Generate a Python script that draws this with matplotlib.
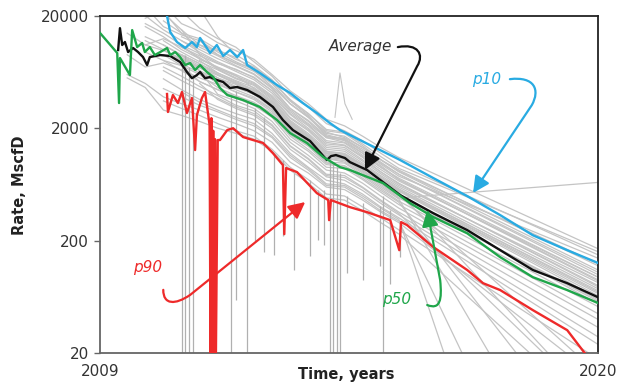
import numpy as np
import matplotlib
matplotlib.use("Agg")
from matplotlib import pyplot as plt
from matplotlib.path import Path
from matplotlib.patches import FancyArrowPatch

nan = np.nan

# ---- coloured summary curves (year, rate MscfD) ----
p10_years = [2010.48, 2010.55, 2010.70, 2010.88, 2011.03, 2011.14, 2011.21, 2011.36, 2011.43, 2011.58,
             2011.72, 2011.87, 2012.03, 2012.16, 2012.25, 2012.53, 2012.91, 2013.20, 2013.48, 2013.79,
             2014.08, 2014.30, 2014.74, 2015.41, 2015.63, 2016.36, 2017.11, 2017.84, 2018.56, 2019.32, 2020.0]
p10_rates = [19900, 14340, 11670, 10330, 11670, 10530, 12690, 10330, 9320, 10980,
             8770, 9910, 8580, 9910, 7290, 6190, 4840, 4110, 3350, 2730,
             2220, 1927, 1571, 1155, 1043, 722, 499, 338, 224, 165, 127]

avg_years = [2009.40, 2009.44, 2009.49, 2009.55, 2009.62, 2009.73, 2009.84, 2009.95, 2010.04, 2010.10,
             2010.33, 2010.55, 2010.77, 2010.92, 2011.03, 2011.14, 2011.21, 2011.32, 2011.43, 2011.58,
             2011.72, 2011.87, 2012.03, 2012.25, 2012.53, 2012.82, 2013.04, 2013.26, 2013.64, 2014.01,
             2014.10, 2014.21, 2014.41, 2014.52, 2014.90, 2015.63, 2016.36, 2017.11, 2017.84, 2018.56,
             2019.32, 2020.0]
avg_rates = [9910, 15500, 10980, 11680, 9510, 10330, 9510, 8580, 7290, 8580,
             8945, 8770, 7750, 6320, 5570, 5940, 6320, 5570, 5700, 5360,
             5150, 4560, 4650, 4370, 3800, 3090, 2365, 1927, 1540, 1043,
             1130, 1155, 1087, 1000, 850, 509, 352, 249, 165, 110,
             84, 63]

p50_years = [2009.00, 2009.38, 2009.42, 2009.44, 2009.66, 2009.71, 2009.82, 2009.93, 2009.99, 2010.10,
             2010.21, 2010.33, 2010.48, 2010.55, 2010.66, 2010.77, 2010.88, 2010.99, 2011.10, 2011.21,
             2011.36, 2011.50, 2011.65, 2011.81, 2012.16, 2012.53, 2012.91, 2013.20, 2013.57, 2013.93,
             2014.30, 2014.52, 2015.25, 2015.85, 2016.36, 2017.11, 2017.84, 2018.56, 2019.32, 2020.0]
p50_rates = [14040, 9320, 3350, 8410, 5940, 14900, 10530, 11440, 9510, 10530,
             8945, 9510, 10330, 8945, 9510, 8580, 7290, 7590, 6580, 7290,
             6320, 5700, 4560, 3945, 3560, 3090, 2365, 1810, 1480, 1110,
             903, 850, 651, 431, 325, 233, 143, 95, 72.9, 56]

p90_years = [2010.48, 2010.50, 2010.61, 2010.72, 2010.81, 2010.92, 2011.03, 2011.10, 2011.14, 2011.25,
             2011.32, 2011.42, 2011.44, 2011.46, 2011.48, 2011.50, 2011.52, 2011.54, 2011.56, 2011.60,
             2011.65, 2011.81, 2011.94, 2012.16, 2012.38, 2012.60, 2012.82, 2013.04, 2013.07, 2013.11,
             2013.35, 2013.79, 2014.04, 2014.06, 2014.10, 2014.52, 2014.90, 2015.41, 2015.61, 2015.65,
             2015.78, 2016.36, 2017.11, 2017.46, 2017.84, 2018.56, 2019.32, 2019.71]
p90_rates = [4030, 2790, 3945, 3350, 4200, 2730, 3710, 1280, 2620, 3710,
             4200, 2135, 20, 2460, 20, 1900, 20, 1600, 20, 1571,
             1571, 1927, 2000, 1670, 1571, 1480, 1200, 941, 229, 886,
             815, 530, 460, 305, 460, 398, 359, 305, 165, 293,
             276, 176, 110, 84, 72.9, 48.4, 32.1, 20]

# ---- individual wells (grey) ----
hist_years = [2009.6, 2010.0, 2010.4, 2010.8, 2011.2, 2011.6, 2012.0, 2012.4,
              2012.8, 2013.2, 2013.6, 2014.0, 2014.4, 2014.8, 2015.2, 2015.6]
gray_hist = [
    [nan, nan, 25000, 17000, 14500, 11500, 9800, 8200, 6000, 4300, 3300, 2400, 2100, 1700, 1350, 1100],
    [nan, nan, nan, 22000, 15500, 12500, 10500, 7800, 5800, 3900, 3100, 2200, 1900, 1550, 1200, 950],
    [nan, 24000, 16000, 13500, 12000, 9000, 7600, 6800, 5200, 3600, 2700, 1900, 1800, 1400, 1050, 850],
    [nan, nan, 21000, 15000, 11000, 9800, 8500, 6500, 4700, 3300, 2500, 1750, 1600, 1300, 1000, 780],
    [nan, nan, nan, nan, 23000, 13000, 9000, 7200, 5400, 3500, 2600, 1700, 1550, 1200, 900, 720],
    [14000, 11000, 12500, 10500, 8800, 7500, 6700, 5600, 4300, 2900, 2200, 1650, 1500, 1200, 930, 700],
    [nan, 16000, 13000, 10000, 8300, 7000, 6000, 5100, 3900, 2650, 2000, 1450, 1400, 1100, 820, 640],
    [nan, nan, 12000, 9500, 7800, 6600, 5500, 4800, 3600, 2350, 1800, 1300, 1250, 980, 760, 600],
    [nan, nan, nan, 15000, 9000, 6800, 5900, 4500, 3400, 2250, 1700, 1200, 1150, 900, 700, 560],
    [9000, 7000, 7600, 6600, 5600, 4900, 4200, 3700, 2900, 1900, 1450, 1080, 1000, 800, 620, 480],
    [nan, 9500, 8000, 7200, 6000, 4600, 3900, 3400, 2700, 1750, 1380, 980, 930, 750, 580, 450],
    [nan, nan, 9000, 7200, 5200, 4400, 3700, 3200, 2500, 1600, 1250, 900, 880, 700, 540, 420],
    [nan, nan, nan, 9000, 6500, 4000, 3500, 3000, 2300, 1500, 1150, 850, 800, 650, 500, 390],
    [nan, nan, 7000, 5800, 4700, 3900, 3200, 2850, 2150, 1400, 1080, 780, 760, 600, 460, 360],
    [nan, nan, nan, nan, 5000, 3600, 3000, 2600, 2000, 1300, 1000, 740, 690, 560, 430, 340],
    [6000, 5000, 3800, 3300, 2900, 2500, 2200, 1900, 1500, 1000, 800, 600, 570, 460, 360, 290],
    [nan, nan, 5500, 4400, 3600, 3100, 2700, 2400, 1800, 1200, 900, 690, 640, 520, 400, 320],
    [nan, 20000, 15000, 12000, 10000, 8300, 7100, 6000, 4500, 3000, 2300, 1650, 1580, 1250, 960, 750],
    [nan, nan, nan, 13000, 11000, 9000, 7500, 6400, 5000, 3300, 2500, 1850, 1650, 1350, 1050, 820],
    [nan, nan, 18000, 14000, 10500, 8800, 7200, 6100, 4600, 3000, 2350, 1700, 1620, 1250, 980, 780],
    [nan, nan, nan, nan, 8000, 6200, 5300, 4600, 3500, 2300, 1750, 1250, 1200, 950, 740, 580],
    [nan, nan, 10000, 8200, 6900, 5900, 5000, 4300, 3300, 2150, 1650, 1200, 1120, 880, 690, 540],
    [nan, nan, nan, 8500, 7000, 5600, 4700, 4000, 3100, 2050, 1550, 1130, 1080, 850, 660, 520],
    [nan, 13000, 11000, 9000, 7500, 6200, 5200, 4400, 3400, 2250, 1700, 1230, 1170, 930, 720, 560],
    [nan, nan, nan, 10500, 8500, 6700, 5600, 4900, 3700, 2450, 1900, 1350, 1300, 1020, 790, 620],
    [nan, nan, 8000, 6500, 5200, 4400, 3800, 3300, 2600, 1700, 1300, 950, 920, 720, 560, 440],
    [nan, nan, nan, nan, 6500, 5000, 4200, 3600, 2800, 1850, 1400, 1000, 980, 770, 600, 470],
    [nan, nan, 4500, 3800, 3200, 2800, 2400, 2100, 1650, 1100, 850, 620, 600, 480, 370, 300],
    [nan, 11000, 9800, 8300, 6900, 5600, 4900, 4200, 3250, 2150, 1650, 1180, 1130, 900, 700, 550],
    [nan, nan, nan, 12000, 9500, 7800, 6600, 5700, 4300, 2800, 2150, 1550, 1480, 1150, 900, 700],
    [nan, nan, nan, 4200, 3400, 2900, 2500, 2200, 1700, 1150, 880, 640, 620, 500, 390, 310],
    [nan, nan, 3500, 3000, 2600, 2200, 1900, 1700, 1300, 900, 700, 520, 500, 400, 320, 250],
    [nan, nan, nan, 9000, 7500, 6000, 5000, 4200, 3200, 2100, 1600, 1150, 1080, 850, 650, 480],
    [5600, 4600, 2900, 2600, 2300, 2000, 1800, 1600, 1250, 850, 650, 480, 460, 370, 290, 230],
    [nan, 19000, 22000, 14000, 12500, 10000, 8200, 7000, 5300, 3500, 2700, 1950, 1850, 1450, 1120, 880],
    [nan, nan, nan, 11000, 8200, 6900, 5800, 5000, 3800, 2500, 1950, 1400, 1350, 1050, 820, 650],
    [nan, 17000, 14000, 11000, 9200, 7600, 6400, 5400, 4100, 2700, 2100, 1500, 1420, 1120, 860, 680],
    [nan, nan, 11000, 8800, 7200, 6000, 5100, 4400, 3350, 2200, 1700, 1250, 1180, 930, 720, 570],
    [nan, nan, nan, 7500, 6200, 5100, 4400, 3800, 2950, 1950, 1500, 1080, 1030, 820, 640, 500],
    [nan, 12000, 10000, 8000, 6500, 5400, 4600, 4000, 3050, 2000, 1550, 1100, 1060, 840, 650, 510],
    [nan, nan, nan, nan, 12000, 9500, 7800, 6600, 5000, 3300, 2550, 1800, 1700, 1350, 1050, 830],
    [nan, nan, 6500, 5300, 4400, 3700, 3100, 2700, 2100, 1380, 1060, 760, 730, 590, 450, 350],
]
gray_end_year = [2020, 2020, 2020, 2020, 2020, 2020, 2020, 2020, 2020, 2020,
                 2020, 2020, 2020, 2020, 2020, 2019.3, 2020, 2020, 2020, 2020,
                 2020, 2018.9, 2020, 2020, 2020, 2018.2, 2017.6, 2017.0, 2020, 2020,
                 2016.6, 2019.8, 2020, 2018.5, 2020, 2020, 2020, 2020, 2020, 2019.5,
                 2020, 2018.8]
gray_end_rate = [170, 150, 120, 105, 95, 90, 80, 75, 68, 60,
                 52, 45, 40, 34, 28, 20, 24, 140, 110, 100,
                 70, 20, 55, 65, 85, 20, 20, 20, 62, 88,
                 20, 20, 660, 20, 160, 78, 95, 72, 58, 20,
                 125, 20]

# shut-in drops of single wells
drop_years = [2010.81, 2010.88, 2010.97, 2011.05, 2011.89, 2012.25, 2014.08, 2014.15,
              2014.24, 2014.30, 2015.25, 2012.84, 2013.04, 2013.29, 2013.64, 2013.82,
              2013.95, 2014.46, 2014.81, 2015.19, 2015.41, 2015.63, 2012.00, 2012.42, 2012.62]
drop_tops = [8000, 9000, 7000, 6000, 4000, 3500, 1100, 1000,
             900, 800, 500, 1200, 1050, 800, 690, 560,
             560, 500, 430, 410, 375, 280, 4300, 3000, 2500]
drop_bottoms = [20, 20, 20, 20, 20, 20, 20, 20,
                20, 20, 20, 150, 220, 110, 145, 205,
                185, 104, 90, 120, 83, 143, 60, 200, 160]

spike_years = [2014.19, 2014.30, 2014.41, 2014.57]
spike_rates = [2500, 6200, 3300, 2400]

fig = plt.figure(figsize=(6.19, 3.86), dpi=100)
ax = fig.add_axes([0.1616, 0.0847, 0.8045, 0.8746])

for row, ey, er in zip(gray_hist, gray_end_year, gray_end_rate):
    xs = [t for t, v in zip(hist_years, row) if not np.isnan(v)] + [ey]
    ys = [v for v in row if not np.isnan(v)] + [er]
    ax.plot(xs, ys, color="#c4c4c4", lw=0.9, zorder=1)

ax.vlines(drop_years, drop_bottoms, drop_tops, color="#b0b0b0", lw=0.9, zorder=1)
ax.plot(spike_years, spike_rates, color="#c4c4c4", lw=0.8, zorder=1)

ax.plot(p10_years, p10_rates, color="#29abe2", lw=1.7, zorder=3)
ax.plot(avg_years, avg_rates, color="#111111", lw=1.7, zorder=3)
ax.plot(p50_years, p50_rates, color="#1fa64a", lw=1.7, zorder=4)
ax.plot(p90_years, p90_rates, color="#ee2a2a", lw=1.7, zorder=5)

ax.set_yscale("log")
ax.set_ylim(20, 20000)
ax.set_xlim(2009, 2020)
ax.set_yticks([20, 200, 2000, 20000])
ax.set_yticklabels(["20", "200", "2000", "20000"])
ax.minorticks_off()
ax.set_xticks([2009, 2020])
ax.set_xticklabels(["2009", "2020"])
ax.tick_params(axis="y", length=4, width=1, color="#666666", labelsize=11, labelcolor="#333333", pad=4)
ax.tick_params(axis="x", length=0, labelsize=11, labelcolor="#333333", pad=8)

for side in ["left", "bottom"]:
    ax.spines[side].set_color("#666666")
    ax.spines[side].set_linewidth(1.3)
for side in ["top", "right"]:
    ax.spines[side].set_color("#222222")
    ax.spines[side].set_linewidth(1.3)

ax.text(0.494, -0.064, "Time, years", transform=ax.transAxes, ha="center", va="center",
        fontsize=10.5, fontweight="bold", color="#222222")
fig.text(0.032, 0.52, "Rate, MscfD", rotation=90, ha="center", va="center",
         fontsize=10.5, fontweight="bold", color="#222222")


def hook_arrow(pts, color):
    codes = [Path.MOVETO, Path.CURVE4, Path.CURVE4, Path.CURVE4, Path.LINETO]
    arr = FancyArrowPatch(path=Path(pts, codes), arrowstyle="-|>,head_length=0.9,head_width=0.45",
                          mutation_scale=11, lw=1.6, color=color, transform=ax.transAxes,
                          clip_on=False, zorder=6)
    ax.add_patch(arr)


ax.text(0.524, 0.910, "Average", transform=ax.transAxes, ha="center", va="center",
        fontsize=11, style="italic", color="#333333")
hook_arrow([(0.598, 0.907), (0.639, 0.919), (0.651, 0.884), (0.637, 0.851), (0.532, 0.543)], "#111111")

ax.text(0.777, 0.810, "p10", transform=ax.transAxes, ha="center", va="center",
        fontsize=11, style="italic", color="#29abe2")
hook_arrow([(0.823, 0.812), (0.873, 0.821), (0.884, 0.780), (0.867, 0.735), (0.749, 0.475)], "#29abe2")

ax.text(0.096, 0.253, "p90", transform=ax.transAxes, ha="center", va="center",
        fontsize=11, style="italic", color="#ee2a2a")
hook_arrow([(0.127, 0.188), (0.127, 0.143), (0.151, 0.143), (0.181, 0.173), (0.412, 0.448)], "#ee2a2a")

ax.text(0.596, 0.158, "p50", transform=ax.transAxes, ha="center", va="center",
        fontsize=11, style="italic", color="#1fa64a")
hook_arrow([(0.657, 0.143), (0.683, 0.128), (0.687, 0.158), (0.683, 0.217), (0.657, 0.425)], "#1fa64a")

fig.savefig("out.png", dpi=100)
